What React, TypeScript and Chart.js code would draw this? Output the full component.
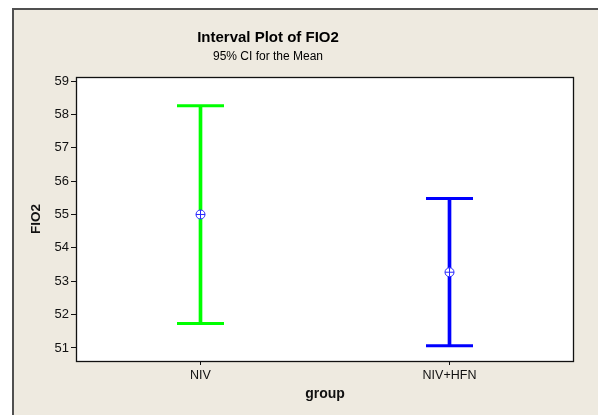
import React, { useEffect, useRef } from 'react';
import { Chart, registerables } from 'chart.js';

Chart.register(...registerables);

const categories = ['NIV', 'NIV+HFN'];
const means = [55.0, 53.27];
const lowerCI = [51.73, 51.07];
const upperCI = [58.26, 55.48];
const intervalColors = ['#00FF00', '#0000FF'];
const markerColor = '#2a2aff';
const yTicks = [51, 52, 53, 54, 55, 56, 57, 58, 59];
const yMin = 50.61;
const yMax = 59.12;
const chartTitle = 'Interval Plot of FIO2';
const chartSubtitle = '95% CI for the Mean';
const xTitle = 'group';
const yTitle = 'FIO2';

const FONT = '"Liberation Sans", Arial, sans-serif';

const pos = (i: number) => i + 1;

const areaPlugin = {
  id: 'areaFrame',
  beforeDraw(chart: any) {
    const { ctx, chartArea: a } = chart;
    ctx.save();
    ctx.fillStyle = '#ffffff';
    ctx.fillRect(a.left, a.top, a.right - a.left, a.bottom - a.top);
    ctx.restore();
  },
  afterDraw(chart: any) {
    const { ctx, chartArea: a } = chart;
    ctx.save();
    ctx.strokeStyle = '#111';
    ctx.lineWidth = 1.3;
    ctx.strokeRect(a.left + 0.5, a.top + 0.5, a.right - a.left - 1, a.bottom - a.top);
    ctx.fillStyle = '#000';
    ctx.textAlign = 'center';
    ctx.textBaseline = 'middle';
    ctx.font = 'bold 15px ' + FONT;
    ctx.fillText(chartTitle, 268, 38);
    ctx.font = '12px ' + FONT;
    ctx.fillText(chartSubtitle, 268, 57);
    ctx.restore();
  },
};

export default function App() {
  const ref = useRef<HTMLCanvasElement | null>(null);
  useEffect(() => {
    document.body.style.margin = '0';
    if (!ref.current) return;
    const chart = new Chart(ref.current, {
      type: 'bar',
      data: {
        datasets: [
          {
            type: 'line',
            data: means.map((m, i) => ({ x: pos(i), y: m })),
            showLine: false,
            pointStyle: 'cross',
            pointRadius: 4.5,
            pointBorderWidth: 1,
            pointBorderColor: markerColor,
            order: -1,
          } as any,
          {
            type: 'line',
            data: means.map((m, i) => ({ x: pos(i), y: m })),
            showLine: false,
            pointStyle: 'circle',
            pointRadius: 4.5,
            pointBorderWidth: 1,
            pointBorderColor: markerColor,
            pointBackgroundColor: '#ffffff',
            order: 0,
          } as any,
          {
            type: 'line',
            data: upperCI.map((v, i) => ({ x: pos(i), y: v })),
            showLine: false,
            pointStyle: 'line',
            pointRadius: 23.5,
            pointBorderWidth: 3,
            pointBorderColor: intervalColors,
            order: 1,
          } as any,
          {
            type: 'line',
            data: lowerCI.map((v, i) => ({ x: pos(i), y: v })),
            showLine: false,
            pointStyle: 'line',
            pointRadius: 23.5,
            pointBorderWidth: 3,
            pointBorderColor: intervalColors,
            order: 1,
          } as any,
          {
            type: 'bar',
            data: lowerCI.map((l, i) => ({ x: pos(i), y: [l, upperCI[i]] })),
            backgroundColor: intervalColors,
            borderWidth: 0,
            barThickness: 3,
            order: 2,
          } as any,
        ],
      },
      options: {
        animation: false,
        responsive: false,
        events: [],
        layout: { autoPadding: false, padding: { left: 0, right: 24, top: 77, bottom: 0 } },
        plugins: {
          legend: { display: false },
          tooltip: { enabled: false },
          title: { display: false },
        },
        scales: {
          x: {
            type: 'linear',
            min: 0.5,
            max: categories.length + 0.5,
            offset: false,
            grid: { offset: false, drawOnChartArea: false, drawTicks: true, tickLength: 4, color: '#111' },
            border: { display: false },
            afterBuildTicks(scale: any) {
              scale.ticks = categories.map((_, i) => ({ value: pos(i) }));
            },
            ticks: {
              color: '#111',
              font: { family: FONT, size: 12.5 },
              padding: 3,
              callback: (v: any) => categories[Math.round(Number(v)) - 1] ?? '',
            },
            title: {
              display: true,
              text: xTitle,
              color: '#111',
              font: { family: FONT, size: 14, weight: 'bold' },
              padding: { top: 0, bottom: 12.5 },
            },
            afterFit(scale: any) {
              scale.height = 54;
            },
          },
          y: {
            type: 'linear',
            min: yMin,
            max: yMax,
            grid: { drawOnChartArea: false, drawTicks: true, tickLength: 5, color: '#111' },
            border: { display: false },
            ticks: {
              stepSize: 1,
              includeBounds: false,
              color: '#111',
              font: { family: FONT, size: 13 },
              padding: 2,
            },
            afterBuildTicks(scale: any) {
              scale.ticks = yTicks.map((v) => ({ value: v }));
            },
            title: {
              display: true,
              text: yTitle,
              color: '#111',
              font: { family: FONT, size: 13.5, weight: 'bold' },
              padding: { top: 28, bottom: 0 },
            },
            afterFit(scale: any) {
              scale.width = 76;
            },
          },
        },
      },
      plugins: [areaPlugin],
    });
    return () => chart.destroy();
  }, []);

  return (
    <div style={{ position: 'relative', width: 598, height: 415, overflow: 'hidden', background: '#ffffff' }}>
      <div
        style={{
          position: 'absolute',
          left: 12,
          top: 8,
          right: -10,
          bottom: -10,
          background: '#EEEAE0',
          borderTop: '2px solid #505050',
          borderLeft: '2px solid #505050',
        }}
      />
      <canvas ref={ref} width={598} height={415} style={{ position: 'absolute', left: 0, top: 0 }} />
    </div>
  );
}
